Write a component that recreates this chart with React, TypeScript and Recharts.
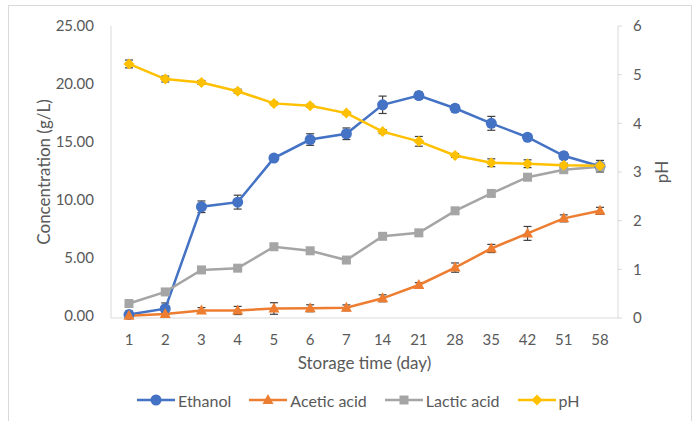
import { LineChart, Line, XAxis, YAxis, ErrorBar, Label } from 'recharts'

const days = ['1', '2', '3', '4', '5', '6', '7', '14', '21', '28', '35', '42', '51', '58']
const ethanol = [0.1, 0.6, 9.4, 9.8, 13.6, 15.2, 15.7, 18.2, 19.0, 17.9, 16.6, 15.4, 13.8, 12.9]
const ethanolErr = [0.3, 0.5, 0.5, 0.6, 0.25, 0.5, 0.5, 0.75, 0.3, 0.3, 0.6, 0.2, 0.3, 0.5]
const acetic = [0.0, 0.15, 0.45, 0.45, 0.62, 0.64, 0.68, 1.5, 2.65, 4.15, 5.8, 7.1, 8.4, 9.05]
const aceticErr = [0.05, 0.1, 0.25, 0.35, 0.5, 0.3, 0.25, 0.3, 0.2, 0.4, 0.35, 0.6, 0.3, 0.3]
const lactic = [1.05, 2.05, 3.95, 4.1, 5.95, 5.6, 4.8, 6.85, 7.15, 9.05, 10.55, 11.95, 12.6, 12.85]
const lacticErr = [0.2, 0.2, 0.2, 0.2, 0.2, 0.2, 0.2, 0.2, 0.2, 0.2, 0.2, 0.2, 0.2, 0.3]
const ph = [5.22, 4.91, 4.84, 4.66, 4.41, 4.36, 4.21, 3.83, 3.63, 3.34, 3.19, 3.17, 3.14, 3.13]
const phErr = [0.08, 0.06, 0.04, 0.04, 0.03, 0.03, 0.03, 0.04, 0.1, 0.04, 0.08, 0.08, 0.04, 0.06]

const leftTicks = [0, 5, 10, 15, 20, 25]
const rightTicks = [0, 1, 2, 3, 4, 5, 6]

const BLUE = '#4472C4'
const ORANGE = '#ED7D31'
const GRAY = '#A5A5A5'
const YELLOW = '#FFC000'
const TEXT = '#595959'
const AXIS = '#D9D9D9'
const FONT = 'Lato, "Open Sans", sans-serif'

const data = days.map((day, i) => ({
  day,
  ethanol: ethanol[i],
  ethanolErr: ethanolErr[i],
  acetic: acetic[i],
  aceticErr: aceticErr[i],
  lactic: lactic[i],
  lacticErr: lacticErr[i],
  ph: ph[i],
  phErr: phErr[i],
}))

type Shape = 'circle' | 'triangle' | 'square' | 'diamond'

const marker = (shape: Shape, x: number, y: number, color: string, key?: string) => {
  if (shape === 'circle') return <circle key={key} cx={x} cy={y} r={5.5} fill={color} />
  if (shape === 'square')
    return <rect key={key} x={x - 4.5} y={y - 4.5} width={9} height={9} fill={color} />
  if (shape === 'triangle')
    return <polygon key={key} points={`${x},${y - 6} ${x + 5.5},${y + 4} ${x - 5.5},${y + 4}`} fill={color} />
  return <polygon key={key} points={`${x},${y - 5.5} ${x + 5.5},${y} ${x},${y + 5.5} ${x - 5.5},${y}`} fill={color} />
}

const makeDot = (shape: Shape, color: string) => (props: any) => {
  const { cx, cy, index } = props
  if (cx == null || cy == null) return <g key={`d-${index}`} />
  return marker(shape, cx, cy, color, `d-${shape}-${index}`)
}

const legendItems: { name: string; color: string; shape: Shape }[] = [
  { name: 'Ethanol', color: BLUE, shape: 'circle' },
  { name: 'Acetic acid', color: ORANGE, shape: 'triangle' },
  { name: 'Lactic acid', color: GRAY, shape: 'square' },
  { name: 'pH', color: YELLOW, shape: 'diamond' },
]

export default function App() {
  const tick = { fill: TEXT, fontSize: 15, fontFamily: FONT }
  return (
    <div style={{ position: 'absolute', left: 0, top: 0, width: 700, height: 421, background: '#fff' }}>
      <div
        style={{
          position: 'absolute',
          left: 8,
          top: 5,
          width: 684,
          height: 420,
          border: '1px solid #D9D9D9',
          boxSizing: 'border-box',
        }}
      />
      <div style={{ position: 'absolute', left: 0, top: 0 }}>
        <LineChart width={700} height={421} data={data} margin={{ top: 26, right: 0, bottom: 43, left: 0 }}>
          <XAxis
            dataKey="day"
            padding={{ left: 18, right: 18 }}
            stroke={AXIS}
            tickLine={false}
            tick={tick}
            tickSize={6}
            tickMargin={10}
            height={60}
            interval={0}
          >
            <Label value="Storage time (day)" position="insideBottom" offset={9} fill={TEXT} fontSize={17} fontFamily={FONT} />
          </XAxis>
          <YAxis
            yAxisId="left"
            width={111}
            domain={[0, 25]}
            ticks={leftTicks}
            tickFormatter={(v: number) => v.toFixed(2)}
            stroke={AXIS}
            tickLine={false}
            tick={tick}
            tickSize={6}
            tickMargin={11}
          >
            <Label
              value="Concentration (g/L)"
              angle={-90}
              position="center"
              dx={-12}
              fill={TEXT}
              fontSize={17}
              fontFamily={FONT}
            />
          </YAxis>
          <YAxis
            yAxisId="right"
            orientation="right"
            width={82}
            domain={[0, 6]}
            ticks={rightTicks}
            stroke={AXIS}
            tickLine={{ stroke: AXIS }}
            tick={tick}
            tickSize={4}
            tickMargin={11}
          >
            <Label value="pH" angle={-90} position="center" dx={3} fill={TEXT} fontSize={17} fontFamily={FONT} />
          </YAxis>
          <Line
            yAxisId="left"
            dataKey="ethanol"
            stroke={BLUE}
            strokeWidth={2.5}
            dot={makeDot('circle', BLUE)}
            activeDot={false}
            isAnimationActive={false}
          >
            <ErrorBar dataKey="ethanolErr" direction="y" width={4} stroke="#404040" strokeWidth={1.2} />
          </Line>
          <Line
            yAxisId="left"
            dataKey="acetic"
            stroke={ORANGE}
            strokeWidth={2.5}
            dot={makeDot('triangle', ORANGE)}
            activeDot={false}
            isAnimationActive={false}
          >
            <ErrorBar dataKey="aceticErr" direction="y" width={4} stroke="#404040" strokeWidth={1.2} />
          </Line>
          <Line
            yAxisId="left"
            dataKey="lactic"
            stroke={GRAY}
            strokeWidth={2.5}
            dot={makeDot('square', GRAY)}
            activeDot={false}
            isAnimationActive={false}
          >
            <ErrorBar dataKey="lacticErr" direction="y" width={4} stroke="#404040" strokeWidth={1.2} />
          </Line>
          <Line
            yAxisId="right"
            dataKey="ph"
            stroke={YELLOW}
            strokeWidth={2.5}
            dot={makeDot('diamond', YELLOW)}
            activeDot={false}
            isAnimationActive={false}
          >
            <ErrorBar dataKey="phErr" direction="y" width={4} stroke="#404040" strokeWidth={1.2} />
          </Line>
        </LineChart>
      </div>
      <div
        style={{
          position: 'absolute',
          left: 137,
          top: 390,
          display: 'flex',
          alignItems: 'center',
          gap: 18,
          fontFamily: FONT,
          fontSize: 16,
          color: TEXT,
          height: 20,
        }}
      >
        {legendItems.map((item) => (
          <div key={item.name} style={{ display: 'flex', alignItems: 'center', gap: 3 }}>
            <svg width={38} height={14}>
              <line x1={0} y1={7} x2={38} y2={7} stroke={item.color} strokeWidth={2.5} />
              {marker(item.shape, 19, 7, item.color)}
            </svg>
            <span>{item.name}</span>
          </div>
        ))}
      </div>
    </div>
  )
}
